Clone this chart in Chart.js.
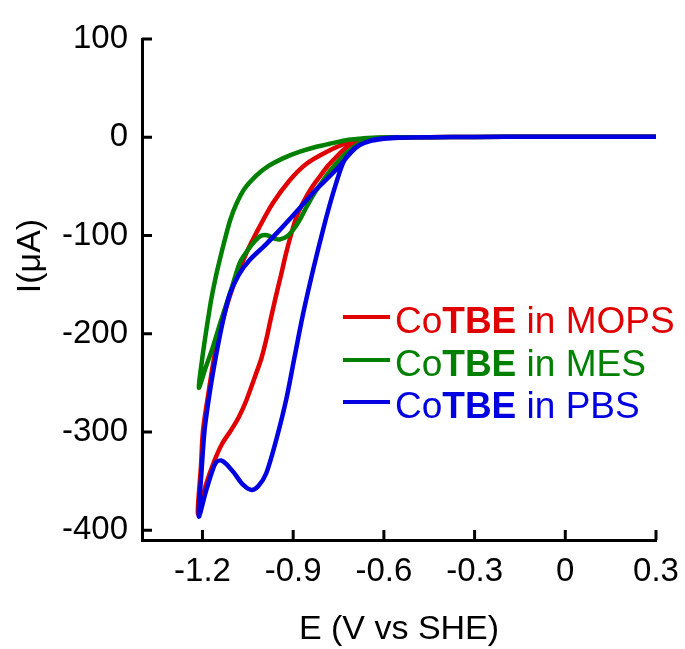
<!DOCTYPE html>
<html>
<head>
<meta charset="utf-8">
<script src="https://cdn.jsdelivr.net/npm/chart.js@4.4.1/dist/chart.umd.min.js"></script>
<style>
  html, body { margin: 0; padding: 0; background: #fff; }
  canvas { display: block; }
</style>
</head>
<body>
<canvas id="mycanvas" width="685" height="649"></canvas>
<script>
// cyclic voltammograms of CoTBE in three buffers, E in V vs SHE, I in uA
var xTicks = [-1.2, -0.9, -0.6, -0.3, 0, 0.3];
var yTicks = [-400, -300, -200, -100, 0, 100];

var buffers = ['MOPS', 'MES', 'PBS'];
var colors = ['#e00000', '#008000', '#0000e0'];

// MOPS: cathodic sweep from 0.3 V to the vertex, then back
var mopsE = [0.3, 0.1, -0.1, -0.3, -0.45, -0.55, -0.6, -0.647, -0.68, -0.702, -0.73, -0.757, -0.785, -0.812, -0.84, -0.868, -0.89, -0.906, -0.925, -0.94, -0.958, -0.975, -0.989, -1.005, -1.022, -1.055, -1.08, -1.105, -1.135, -1.16, -1.19, -1.215,
             -1.205, -1.198, -1.18, -1.16, -1.133, -1.099, -1.055, -1.011, -0.967, -0.912, -0.856, -0.79, -0.724, -0.658, -0.6, -0.5];
var mopsI = [0.5, 0.5, 0.5, 0.3, 0, -0.3, -0.5, -1.5, -3.5, -6, -12, -20, -29, -40, -52, -67, -82, -98, -120, -140, -163, -186, -206, -225, -240, -268, -285, -298, -312, -329, -355, -383,
             -335, -298, -260, -222, -186, -152, -118, -91, -67, -44, -27, -15, -6, -1.5, -0.5, 0];

// MES
var mesE = [0.3, 0.1, -0.1, -0.3, -0.45, -0.58, -0.636, -0.665, -0.691, -0.72, -0.746, -0.775, -0.801, -0.83, -0.856, -0.88, -0.901, -0.92, -0.945, -0.965, -0.98, -0.994, -1.01, -1.033, -1.055, -1.077, -1.105, -1.138, -1.166, -1.19, -1.212,
            -1.202, -1.192, -1.182, -1.171, -1.158, -1.143, -1.125, -1.108, -1.088, -1.06, -1.022, -0.98, -0.934, -0.88, -0.823, -0.77, -0.724, -0.68, -0.636, -0.55];
var mesI = [0.5, 0.5, 0.5, 0.3, 0, -0.3, -1, -4, -8, -15, -23, -33, -44, -57, -71, -85, -94.5, -101, -104, -103, -100.5, -99.6, -101, -108, -117, -128, -155, -186, -214, -235, -255,
            -228, -206, -186, -165, -145, -125, -103, -84, -68, -52, -39, -29, -21.5, -15, -9.7, -6, -3, -1.5, -0.5, 0];

// PBS
var pbsE = [0.3, 0.1, -0.1, -0.3, -0.45, -0.55, -0.6, -0.64, -0.68, -0.71, -0.735, -0.768, -0.801, -0.834, -0.868, -0.895, -0.923, -0.956, -0.989, -1.015, -1.038, -1.065, -1.095, -1.12, -1.138, -1.155, -1.17, -1.19, -1.212,
            -1.203, -1.193, -1.175, -1.155, -1.133, -1.11, -1.08, -1.044, -0.99, -0.934, -0.878, -0.823, -0.78, -0.746, -0.71, -0.68, -0.64, -0.6, -0.55];
var pbsI = [0.5, 0.5, 0.5, 0.3, 0, -0.5, -1.5, -3.5, -8, -15, -26, -57, -94, -135, -181, -223, -267, -308, -342, -355, -359, -354, -342, -333, -329, -331, -342, -362, -386,
            -340, -298, -258, -222, -188, -160, -140, -125, -109, -91, -72, -53, -40, -29, -16, -8, -3, -1, 0];

var curves = [[mopsE, mopsI], [mesE, mesI], [pbsE, pbsI]];

function toPoints(e, i) {
	var pts = [];
	for (var k in e) {
		pts.push({x: e[k], y: i[k]});
	}
	return pts;
}

var font = 'Liberation Sans, Arial, sans-serif';

var datasets = [];
for (var n in buffers) {
	datasets.push({
		label: 'CoTBE in ' + buffers[n],
		data: toPoints(curves[n][0], curves[n][1]),
		borderColor: colors[n],
		backgroundColor: colors[n],
		borderWidth: 4.5,
		pointRadius: 0,
		showLine: true,
		tension: 0.3,
		order: buffers.length - 1 - n   // PBS drawn on top
	});
}

// ticks pointing into the plot area
var inwardTicks = {
	id: 'inwardTicks',
	afterDraw: function(chart) {
		var ctx = chart.ctx, a = chart.chartArea;
		var xs = chart.scales.x, ys = chart.scales.y;
		ctx.save();
		ctx.strokeStyle = '#000';
		ctx.lineWidth = 3;
		ctx.beginPath();
		xs.ticks.forEach(function(t) {
			var px = xs.getPixelForValue(t.value);
			ctx.moveTo(px, a.bottom);
			ctx.lineTo(px, a.bottom - 10);
		});
		ys.ticks.forEach(function(t) {
			var py = ys.getPixelForValue(t.value);
			ctx.moveTo(a.left, py);
			ctx.lineTo(a.left + 10, py);
		});
		ctx.stroke();
		ctx.restore();
	}
};

// y title and the legend with the bold "TBE"
var labels = {
	id: 'labels',
	afterDraw: function(chart) {
		var ctx = chart.ctx;
		ctx.save();
		ctx.fillStyle = '#000';
		ctx.font = '34px ' + font;
		ctx.textAlign = 'center';
		ctx.textBaseline = 'middle';
		ctx.translate(31, 256);
		ctx.rotate(-Math.PI / 2);
		ctx.fillText('I(\u03bcA)', 0, 0);
		ctx.restore();

		var rows = [317, 360, 402];
		ctx.save();
		ctx.textBaseline = 'alphabetic';
		ctx.textAlign = 'left';
		chart.data.datasets.forEach(function(ds, k) {
			var y = rows[k];
			ctx.strokeStyle = ds.borderColor;
			ctx.fillStyle = ds.borderColor;
			ctx.lineWidth = 4;
			ctx.beginPath();
			ctx.moveTo(343, y);
			ctx.lineTo(390, y);
			ctx.stroke();
			var x = 395, base = y + 16;
			var parts = [['Co', ''], ['TBE', 'bold '], [' in ' + buffers[k], '']];
			parts.forEach(function(p) {
				ctx.font = p[1] + '37px ' + font;
				ctx.fillText(p[0], x, base);
				x += ctx.measureText(p[0]).width;
			});
		});
		ctx.restore();
	}
};

var ctx = document.getElementById('mycanvas');

var cv = new Chart(ctx, {
	type: 'scatter',
	data: { datasets: datasets },
	options: {
		responsive: false,
		animation: false,
		layout: { padding: { left: 0, right: 29, top: 39, bottom: 0 } },
		plugins: {
			legend: { display: false },
			tooltip: { enabled: false }
		},
		scales: {
			x: {
				type: 'linear',
				min: -1.4,
				max: 0.3,
				afterBuildTicks: function(s) { s.ticks = xTicks.map(function(v) { return {value: v}; }); },
				afterFit: function(s) { s.height = 109; s.paddingLeft = 0; s.paddingRight = 0; },
				grid: { display: false, drawTicks: false },
				border: { display: true, color: '#000', width: 3 },
				ticks: {
					color: '#000',
					font: { family: font, size: 33 },
					padding: 12,
					maxRotation: 0,
					autoSkip: false,
					callback: function(v) { return String(+v.toFixed(1)); }
				},
				title: {
					display: true,
					text: 'E (V vs SHE)',
					color: '#000',
					font: { family: font, size: 34, lineHeight: 1 },
					padding: { top: 0, bottom: 2 }
				}
			},
			y: {
				type: 'linear',
				min: -410,
				max: 100,
				afterBuildTicks: function(s) { s.ticks = yTicks.map(function(v) { return {value: v}; }); },
				afterFit: function(s) { s.width = 142; s.paddingTop = 0; s.paddingBottom = 0; },
				grid: { display: false, drawTicks: false },
				border: { display: true, color: '#000', width: 3 },
				ticks: {
					color: '#000',
					font: { family: font, size: 33 },
					padding: 14,
					autoSkip: false
				}
			}
		}
	},
	plugins: [inwardTicks, labels]
});
</script>
</body>
</html>
